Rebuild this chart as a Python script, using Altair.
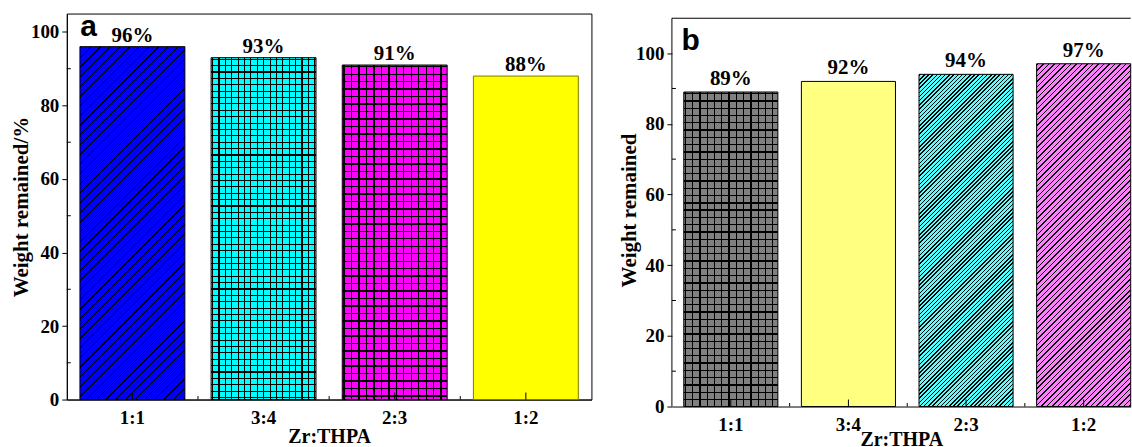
import altair as alt
import pandas as pd

# ---------------- data ----------------
categories = ["1:1", "3:4", "2:3", "1:2"]
weight_a = [96, 93, 91, 88]
weight_b = [89, 92, 94, 97]
major_ticks = [0, 20, 40, 60, 80, 100]
minor_ticks = [10, 30, 50, 70, 90]

# ---------------- styles ----------------
fill_a = ["#0000FF", "#00FFFF", "#FF00FF", "#FFFF00"]
pattern_a = [("diag", 9.7, 1.3), ("grid", 6.4, 1.1), ("grid", 7.5, 1.4), None]
stroke_a = ["black", "black", "black", "#7A7A00"]

fill_b = ["#808080", "#FFFF80", "#55FFFF", "#FF80FF"]
pattern_b = [("grid", 7.3, 1.3), None, ("diag", 4.2, 1.5), ("diag", 5.5, 1.5)]
stroke_b = ["black", "black", "black", "black"]

SERIF = "Liberation Serif"
SANS = "Liberation Sans"
CLEAR = "rgba(0,0,0,0)"


def make_stops(length, period, lw, base, line, phase=1.0):
    st = [{"offset": 0.0, "color": base}]
    k = -1
    while True:
        a = phase + k * period
        if a >= length:
            break
        b = min(a + lw, length)
        if b > 0:
            o0 = round(max(a, 0) / length, 6)
            o1 = round(b / length, 6)
            st += [
                {"offset": o0, "color": base},
                {"offset": o0, "color": line},
                {"offset": o1, "color": line},
                {"offset": o1, "color": base},
            ]
        k += 1
    st.append({"offset": 1.0, "color": base})
    return st


def diag_grad(w, hh, period, lw, base, phase):
    s = (w + hh) / (w * w + hh * hh)
    return {"gradient": "linear", "x1": 0, "y1": 0, "x2": s * w, "y2": s * hh,
            "stops": make_stops(w + hh, period, lw, base, "black", phase)}


def panel(values, fills, patterns, strokes, width, height, ymax, pad_inner,
          pad_outer, align, ytitle, ytitle_pad, letter, letter_xy, label_dy,
          frame_top=None, xlabel_pad=9, xtitle_pad=2):
    df = pd.DataFrame({"cat": categories, "val": values,
                       "label": [f"{v}%" for v in values]})
    step = width / (len(categories) - pad_inner + 2 * pad_outer)
    bw = step * (1 - pad_inner)
    px2d = ymax / height

    xscale = alt.Scale(domain=categories, paddingInner=pad_inner,
                       paddingOuter=pad_outer, align=align)
    yscale = alt.Scale(domain=[0, ymax], nice=False, zero=True)

    x_axis = alt.Axis(labelFont=SERIF, labelFontWeight="bold", labelFontSize=19,
                      labelColor="black", labelAngle=0, labelPadding=xlabel_pad,
                      ticks=False, domain=True, domainColor="black",
                      domainWidth=1, titleFont=SERIF, titleFontWeight="bold",
                      titleFontSize=20, titleColor="black",
                      titlePadding=xtitle_pad, grid=False)
    y_axis = alt.Axis(values=major_ticks, labelFont=SERIF, labelFontWeight="bold",
                      labelFontSize=19, labelColor="black", labelPadding=3,
                      ticks=True, tickSize=5, tickColor="black", tickWidth=1,
                      domain=frame_top is None, domainColor="black",
                      domainWidth=1, titleFont=SERIF, titleFontWeight="bold",
                      titleFontSize=21, titleColor="black",
                      titlePadding=ytitle_pad, grid=False)
    xenc = alt.X("cat:N", sort=categories, scale=xscale, title="Zr:THPA", axis=x_axis)
    yenc = alt.Y("val:Q", scale=yscale, title=ytitle, axis=y_axis)

    def yfield(name):
        return alt.Y(f"{name}:Q", scale=yscale, title=ytitle, axis=y_axis)

    layers = []
    for i, c in enumerate(categories):
        v = values[i]
        hpx = v / ymax * height
        w = bw
        base = alt.Chart(df).transform_filter(alt.datum.cat == c)
        pat = patterns[i]
        if pat is None:
            layers.append(base.mark_bar(fill=fills[i], stroke=strokes[i], strokeWidth=1)
                          .encode(x=xenc, y=yenc))
        elif pat[0] == "diag":
            _, period, lw = pat
            phase = 1.0
            ch = period * max(1, round(90 / period))       # chunk height in px
            n = int(hpx // ch)
            r = hpx - n * ch
            if r < 2 and n > 0:
                n -= 1
                r += ch
            ov = 1.0
            full = pd.DataFrame({"cat": [c] * n,
                                 "y0": [k * ch * px2d for k in range(n)],
                                 "y1": [((k + 1) * ch + ov) * px2d for k in range(n)]})
            top = pd.DataFrame({"cat": [c], "y0": [n * ch * px2d], "y1": [v]})
            if n > 0:
                g_full = diag_grad(w, ch + ov, period, lw, fills[i],
                                   (phase - r + ov) % period)
                layers.append(alt.Chart(full).mark_bar(fill=g_full, strokeWidth=0)
                              .encode(x=xenc, y=yfield("y0"), y2="y1:Q"))
            g_top = diag_grad(w, r, period, lw, fills[i], phase)
            layers.append(alt.Chart(top).mark_bar(fill=g_top, strokeWidth=0)
                          .encode(x=xenc, y=yfield("y0"), y2="y1:Q"))
            layers.append(base.mark_bar(fill=CLEAR, stroke=strokes[i], strokeWidth=1)
                          .encode(x=xenc, y=yenc))
        else:
            _, period, lw = pat
            gh = {"gradient": "linear", "x1": 0, "y1": 0, "x2": 0, "y2": 1,
                  "stops": make_stops(hpx, period, lw, fills[i], "black")}
            gv = {"gradient": "linear", "x1": 0, "y1": 0, "x2": 1, "y2": 0,
                  "stops": make_stops(w, period, lw, CLEAR, "black")}
            layers.append(base.mark_bar(fill=gh, strokeWidth=0).encode(x=xenc, y=yenc))
            layers.append(base.mark_bar(fill=gv, stroke=strokes[i], strokeWidth=1)
                          .encode(x=xenc, y=yenc))

    # value labels
    layers.append(alt.Chart(df).mark_text(baseline="alphabetic", dy=label_dy, font=SERIF,
                                          fontWeight="bold", fontSize=21, color="black")
                  .encode(x=xenc, y=yenc, text="label:N"))

    # inward x ticks (major at categories, minor between)
    layers.append(alt.Chart(df).mark_rule(color="black", strokeWidth=1)
                  .encode(x=xenc, y=alt.value(height), y2=alt.value(height - 7)))
    layers.append(alt.Chart(df.iloc[:-1]).mark_rule(color="black", strokeWidth=1,
                                                    xOffset=step / 2)
                  .encode(x=xenc, y=alt.value(height), y2=alt.value(height - 3.5)))
    # inward minor y ticks
    mdf = pd.DataFrame({"val": minor_ticks})
    layers.append(alt.Chart(mdf).mark_rule(color="black", strokeWidth=1)
                  .encode(y=yenc, x=alt.value(0), x2=alt.value(4)))

    # panel letter
    ldf = pd.DataFrame({"t": [letter]})
    layers.append(alt.Chart(ldf).mark_text(font=SANS, fontWeight="bold", fontSize=30,
                                           align="left", baseline="alphabetic",
                                           color="black", clip=True)
                  .encode(text="t:N", x=alt.value(letter_xy[0]), y=alt.value(letter_xy[1])))

    if frame_top is not None:
        fdf = pd.DataFrame({"f": [0]})
        layers.append(alt.Chart(fdf).mark_rule(color="black", strokeWidth=1)
                      .encode(x=alt.value(0), x2=alt.value(width),
                              y=alt.value(frame_top)))
        layers.append(alt.Chart(fdf).mark_rule(color="black", strokeWidth=1)
                      .encode(x=alt.value(0), y=alt.value(frame_top),
                              y2=alt.value(height)))

    return alt.layer(*layers).properties(width=width, height=height)


chart_a = panel(weight_a, fill_a, pattern_a, stroke_a, width=526, height=387, ymax=105,
                pad_inner=0.2, pad_outer=0.1, align=0.5,
                ytitle="Weight remained/%", ytitle_pad=-1.2, letter="a",
                letter_xy=(13.5, 23), label_dy=-5, xlabel_pad=9, xtitle_pad=-0.5).properties(
    view=alt.ViewBackground(stroke="black", strokeWidth=1))

chart_b = panel(weight_b, fill_b, pattern_b, stroke_b, width=460, height=394, ymax=111.2,
                pad_inner=0.2, pad_outer=0.0504, align=1,
                ytitle="Weight remained", ytitle_pad=-3.8, letter="b",
                letter_xy=(9.5, 36.3), label_dy=-7, frame_top=4.7,
                xlabel_pad=9.5, xtitle_pad=-5.5)

chart = alt.hconcat(chart_a, chart_b, spacing=25.7).properties(
    padding={"left": 10, "top": 12, "right": 0, "bottom": 0},
    background="white",
).configure_view(stroke=None)

chart.save("out.html", embed_options={"renderer": "svg", "actions": False})
